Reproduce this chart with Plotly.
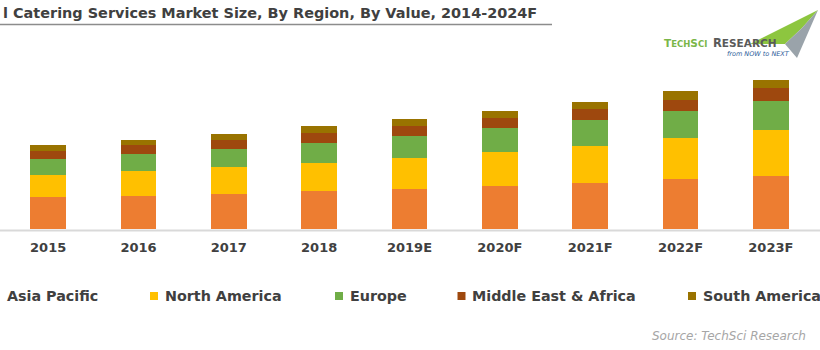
import plotly.graph_objects as go

# ---------------- data ----------------
years = ["2015", "2016", "2017", "2018", "2019E", "2020F", "2021F", "2022F", "2023F"]
series_names = ["Asia Pacific", "North America", "Europe", "Middle East & Africa", "South America"]
asia_pacific = [32.0, 32.6, 35.3, 37.6, 40.3, 42.6, 46.0, 50.0, 53.3]
north_america = [22.3, 25.0, 26.3, 28.4, 30.7, 34.4, 37.3, 41.0, 45.3]
europe = [15.7, 17.4, 18.7, 20.0, 21.6, 24.0, 25.3, 26.6, 29.7]
middle_east_africa = [7.6, 8.6, 9.0, 10.0, 10.7, 10.0, 11.4, 11.7, 12.7]
south_america = [6.7, 5.7, 5.7, 6.6, 6.7, 7.3, 7.0, 8.3, 8.3]
# the reference image is cropped at its left edge; this is the title text visible in it
title_text = "l Catering Services Market Size, By Region, By Value, 2014-2024F"
source_text = "Source: TechSci Research"

# ---------------- style ----------------
colors = ["#ED7D31", "#FFC000", "#70AD47", "#9E480E", "#997300"]
FONT = "DejaVu Sans"
TXT = "#404040"
W, H = 820, 350
ML, MR, MT, MB = 3, 4, 29, 121
PW, PH = W - ML - MR, H - MT - MB


def px(x):
    return (x - ML) / PW


def py(y):
    return (H - MB - y) / PH


values = [asia_pacific, north_america, europe, middle_east_africa, south_america]

fig = go.Figure()
for name, vals, col in zip(series_names, values, colors):
    fig.add_trace(go.Bar(x=years, y=vals, name=name, marker=dict(color=col, line=dict(width=0)),
                         showlegend=False))

shapes = []
annotations = []

# axis baseline spanning the full width
shapes.append(dict(type="line", xref="paper", yref="paper", x0=px(-5), x1=px(825),
                   y0=py(230.5), y1=py(230.5), line=dict(color="#D9D9D9", width=2)))

# title + underline
annotations.append(dict(text="<b>" + title_text + "</b>", xref="paper", yref="paper",
                        x=px(1), y=py(13), xanchor="left", yanchor="middle", showarrow=False,
                        font=dict(family=FONT, size=14.45, color=TXT)))
shapes.append(dict(type="line", xref="paper", yref="paper", x0=px(-5), x1=px(552),
                   y0=py(24.5), y1=py(24.5), line=dict(color="#8C8C8C", width=1.5)))

# legend (custom, drawn from series list)
legend_marker_x = [-4, 154, 339, 461.5, 692]
legend_y = 296
for name, col, mx in zip(series_names, colors, legend_marker_x):
    shapes.append(dict(type="rect", xref="paper", yref="paper", x0=px(mx - 4), x1=px(mx + 4),
                       y0=py(legend_y + 4), y1=py(legend_y - 4), fillcolor=col, line=dict(width=0)))
    annotations.append(dict(text="<b>" + name + "</b>", xref="paper", yref="paper",
                            x=px(mx + 8.5), y=py(legend_y), xanchor="left", yanchor="middle",
                            showarrow=False, font=dict(family=FONT, size=14.3, color=TXT)))

# source
annotations.append(dict(text=source_text, xref="paper", yref="paper", x=px(808), y=py(336),
                        xanchor="right", yanchor="middle", showarrow=False,
                        font=dict(family=FONT, size=12, color="#A6A6A6", style="italic")))


# logo
def path(points):
    return "M " + " L ".join(f"{px(a)},{py(b)}" for a, b in points) + " Z"


shapes.append(dict(type="path", xref="paper", yref="paper",
                   path=path([(750, 44), (818, 10), (802, 28), (785, 44)]),
                   fillcolor="#8DC63F", line=dict(width=0)))
shapes.append(dict(type="path", xref="paper", yref="paper",
                   path=path([(785, 44), (802, 28), (818, 10), (797, 58)]),
                   fillcolor="#9AA3AA", line=dict(width=0)))
annotations.append(dict(text="<b>T<span style='font-size:8.5px'>ECH</span>S<span style='font-size:8.5px'>CI</span></b>",
                        xref="paper", yref="paper", x=px(662), y=py(43), xanchor="left",
                        yanchor="middle", showarrow=False,
                        font=dict(family=FONT, size=10.5, color="#7AB648")))
annotations.append(dict(text="<b>R<span style='font-size:10.5px'>ESEARCH</span></b>",
                        xref="paper", yref="paper", x=px(711), y=py(43), xanchor="left",
                        yanchor="middle", showarrow=False,
                        font=dict(family=FONT, size=11.5, color="#5A5A5A")))
annotations.append(dict(text="from NOW to NEXT", xref="paper", yref="paper", x=px(725), y=py(54),
                        xanchor="left", yanchor="middle", showarrow=False,
                        font=dict(family=FONT, size=6.5, color="#2E5C9A", style="italic")))

fig.update_layout(
    width=W, height=H, barmode="stack", bargap=0.607,
    margin=dict(l=ML, r=MR, t=MT, b=MB, pad=0),
    paper_bgcolor="white", plot_bgcolor="white",
    showlegend=False,
    xaxis=dict(type="category", showline=False, showgrid=False, zeroline=False, ticks="",
               tickfont=dict(family=FONT, size=13, color=TXT, weight="bold"),
               ticklabelstandoff=9),
    yaxis=dict(visible=False, range=[0, PH], showgrid=False, zeroline=False),
    shapes=shapes, annotations=annotations,
)

fig.write_html("out.html")
